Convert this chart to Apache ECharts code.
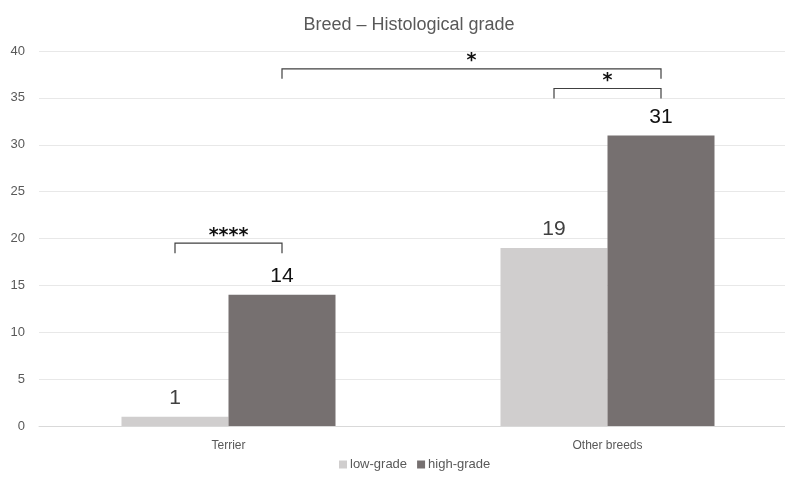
<!DOCTYPE html>
<html>
<head>
<meta charset="utf-8">
<script src="https://cdn.jsdelivr.net/npm/echarts@6/dist/echarts.min.js"></script>
<style>html,body{margin:0;padding:0;background:#fff;overflow:hidden;}#c{width:797px;height:480px;}</style>
</head>
<body>
<div id="c"></div>
<script>
var titleText = 'Breed – Histological grade';
var categories = ['Terrier', 'Other breeds'];
var seriesNames = ['low-grade', 'high-grade'];
var lowGrade = [1, 19];
var highGrade = [14, 31];
var yTicks = [0, 5, 10, 15, 20, 25, 30, 35, 40];
// significance brackets: [fromCategory, fromSeries, toCategory, toSeries, level, label]
var brackets = [
  [0, 0, 0, 1, 19.5, '****'],
  [0, 1, 1, 1, 38.1, '*'],
  [1, 0, 1, 1, 36.0, '*']
];

var FONT = 'Liberation Sans, Arial, sans-serif';
var BAR_W = 107;
var TICK_LEN = 10;

var chart = echarts.init(document.getElementById('c'));
chart.setOption({
  animation: false,
  title: {
    text: titleText, left: 404, top: 11, textAlign: 'center',
    textStyle: { fontFamily: FONT, fontSize: 18, fontWeight: 'normal', color: '#595959' }
  },
  legend: {
    data: seriesNames, bottom: 4, left: 334, itemWidth: 8, itemHeight: 8, itemGap: 10,
    icon: 'rect',
    textStyle: { fontFamily: FONT, fontSize: 13, color: '#595959', padding: [0, 0, 0, -2] }
  },
  grid: { left: 39, top: 51, right: 0, height: 375, containLabel: false },
  xAxis: {
    type: 'category', data: categories,
    axisLine: { lineStyle: { color: '#d9d9d9' } },
    axisTick: { show: false },
    axisLabel: { fontFamily: FONT, fontSize: 12, color: '#595959', margin: 14 }
  },
  yAxis: {
    type: 'value', min: yTicks[0], max: yTicks[yTicks.length - 1], interval: 5,
    axisLine: { show: false }, axisTick: { show: false },
    splitLine: { lineStyle: { color: '#e8e8e8' } },
    axisLabel: { fontFamily: FONT, fontSize: 13, color: '#595959', margin: 14 }
  },
  series: [
    {
      name: seriesNames[0], type: 'bar', data: lowGrade, barWidth: BAR_W, barGap: '0%',
      itemStyle: { color: '#d0cece' },
      label: { show: true, position: 'top', distance: 8, fontFamily: FONT, fontSize: 21, color: '#404040' }
    },
    {
      name: seriesNames[1], type: 'bar', data: highGrade, barWidth: BAR_W, barGap: '0%',
      itemStyle: { color: '#767070' },
      label: { show: true, position: 'top', distance: 8, fontFamily: FONT, fontSize: 21, color: '#111' }
    },
    {
      type: 'custom', data: brackets, silent: true, z: 10,
      renderItem: function (params, api) {
        var b = brackets[params.dataIndex];
        var x1 = api.coord([b[0], b[4]])[0] + (b[1] === 0 ? -BAR_W / 2 : BAR_W / 2);
        var x2 = api.coord([b[2], b[4]])[0] + (b[3] === 0 ? -BAR_W / 2 : BAR_W / 2);
        var y = api.coord([b[0], b[4]])[1];
        return {
          type: 'group',
          children: [
            { type: 'polyline', shape: { points: [[x1, y + TICK_LEN], [x1, y], [x2, y], [x2, y + TICK_LEN]] },
              style: { stroke: '#404040', lineWidth: 1.2, fill: null } },
            { type: 'text', style: { text: b[5], x: (x1 + x2) / 2, y: y + 2, align: 'center', verticalAlign: 'bottom',
              font: 'bold 19px DejaVu Sans, sans-serif', fill: '#111' } }
          ]
        };
      }
    }
  ]
});
</script>
</body>
</html>
